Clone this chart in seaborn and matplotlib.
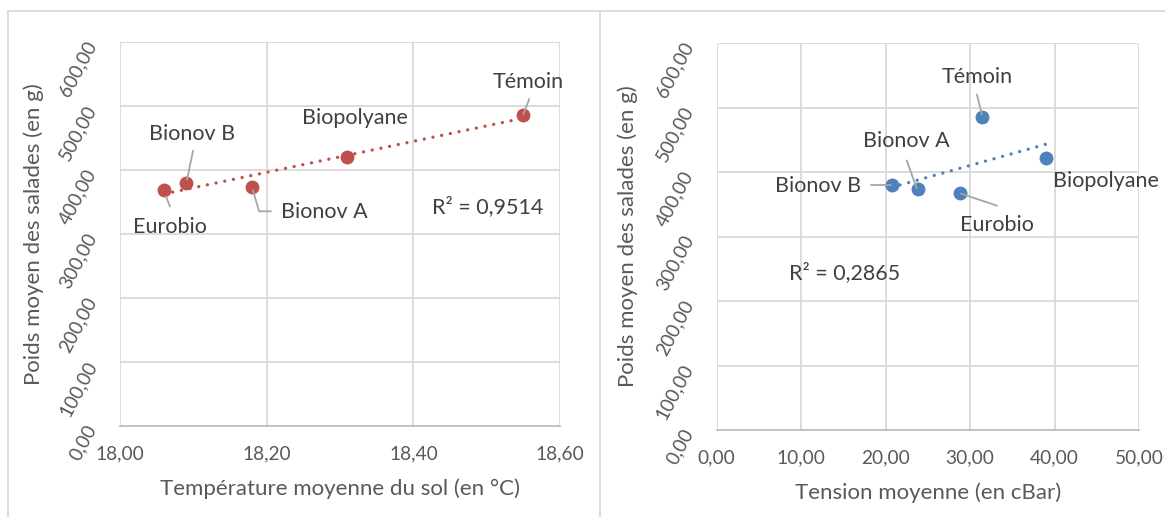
import numpy as np
import pandas as pd
import matplotlib
matplotlib.use("Agg")
import matplotlib.pyplot as plt
import seaborn as sns
from matplotlib.lines import Line2D

# ---------------- data ----------------
treatments = ["Eurobio", "Bionov B", "Bionov A", "Biopolyane", "Témoin"]
temperature = [18.06, 18.09, 18.18, 18.31, 18.55]   # °C
tension = [28.8, 20.7, 23.8, 39.0, 31.4]            # cBar
poids = [368, 380, 373, 421, 486]                   # g

x_ticks_temp = [18.00, 18.20, 18.40, 18.60]
x_labels_temp = ["18,00", "18,20", "18,40", "18,60"]
x_ticks_tens = [0, 10, 20, 30, 40, 50]
x_labels_tens = ["0,00", "10,00", "20,00", "30,00", "40,00", "50,00"]
y_ticks = [0, 100, 200, 300, 400, 500, 600]
y_labels = ["0,00", "100,00", "200,00", "300,00", "400,00", "500,00", "600,00"]

r2_temp = "R² = 0,9514"
r2_tens = "R² = 0,2865"
ylabel_text = "Poids moyen des salades (en g)"
xlabel_temp = "Température moyenne du sol (en °C)"
xlabel_tens = "Tension moyenne (en cBar)"

df = pd.DataFrame({"traitement": treatments, "temperature": temperature,
                   "tension": tension, "poids": poids})

# ---------------- style ----------------
sns.set_theme(style="white")
plt.rcParams["font.family"] = ["Lato", "DejaVu Sans"]

RED = "#C0504D"
BLUE = "#4F81BD"
GRID = "#D9D9D9"
AXIS = "#BFBFBF"
TXT = "#595959"
LBL = "#404040"
LEAD = "#A6A6A6"
TICK_FS = 13.8
TITLE_FS = 16
LABEL_FS = 15.5

W, H = 1165, 517
fig = plt.figure(figsize=(W / 100, H / 100), dpi=100)
fig.patch.set_facecolor("white")


def px_axes(x0, y0, x1, y1):
    return fig.add_axes([x0 / W, 1 - y1 / H, (x1 - x0) / W, (y1 - y0) / H])


ax1 = px_axes(120, 42, 560, 426)
ax2 = px_axes(716.7, 43, 1139, 430)

# label layout (pixel offsets from the point: dx right, dy down)
label_off_1 = {"Témoin": (5, -33), "Biopolyane": (8, -39), "Bionov B": (6, -49),
               "Eurobio": (6, 37), "Bionov A": (72, 25)}
leader_1 = {"Témoin": [(6, -16), (0, -1)], "Bionov B": [(7, -32), (1, -3)],
            "Eurobio": [(6, 16), (2, 6)], "Bionov A": [(1, 3), (7, 24), (19, 24)]}
label_off_2 = {"Témoin": (-5, -40), "Bionov A": (-11, -48), "Bionov B": (-73, 1),
               "Eurobio": (37, 32), "Biopolyane": (60, 23)}
leader_2 = {"Témoin": [(-5, -22), (0, -2)], "Bionov A": [(-11, -29), (-1, -1)],
            "Bionov B": [(-21, 0), (-1, 0)], "Eurobio": [(37, 13), (1, 1)]}


def style_axes(ax, xlim, xticks, xlabels):
    ax.set_xlim(*xlim)
    ax.set_ylim(0, 600)
    ax.set_xticks(xticks)
    ax.set_xticklabels(xlabels, fontsize=TICK_FS, color=TXT)
    ax.set_yticks(y_ticks)
    ax.set_yticklabels(y_labels, fontsize=TICK_FS, color=TXT, rotation=62,
                       rotation_mode="anchor", ha="right", va="center")
    ax.tick_params(axis="x", length=0, pad=14)
    ax.tick_params(axis="y", length=0, pad=20)
    ax.grid(True, color=GRID, linewidth=1.3)
    ax.set_axisbelow(True)
    for s in ["top", "right", "left"]:
        ax.spines[s].set_visible(False)
    ax.spines["bottom"].set_color(AXIS)
    ax.spines["bottom"].set_linewidth(1.3)


def set_titles(ax, xlabel, xl_pos, yl_pos):
    ax.set_xlabel(xlabel, fontsize=TITLE_FS, color=TXT)
    ax.set_ylabel(ylabel_text, fontsize=TITLE_FS, color=TXT)
    ax.xaxis.label.set_va("center")
    ax.yaxis.label.set_va("center")
    ax.xaxis.set_label_coords(*xl_pos)
    ax.yaxis.set_label_coords(*yl_pos)


def draw(ax, xcol, color, offs, leaders):
    sns.regplot(data=df, x=xcol, y="poids", ax=ax, scatter=False, ci=None,
                truncate=True,
                line_kws={"color": color, "linewidth": 2.4,
                          "linestyle": (0, (0.01, 2.65)),
                          "dash_capstyle": "round", "zorder": 3})
    sns.scatterplot(data=df, x=xcol, y="poids", ax=ax, color=color, s=100,
                    linewidth=0, zorder=4, legend=False)
    fig.canvas.draw()
    for name, xv, yv in zip(df["traitement"], df[xcol], df["poids"]):
        px, py = ax.transData.transform((xv, yv))
        if name in leaders:
            pts = leaders[name]
            ax.plot([px + d[0] for d in pts], [py - d[1] for d in pts],
                    color=LEAD, linewidth=1.3, transform=None, clip_on=False,
                    zorder=5)
        dx, dy = offs[name]
        ax.annotate(name, xy=(xv, yv), xytext=(dx, -dy),
                    textcoords="offset pixels", ha="center", va="center",
                    fontsize=LABEL_FS, color=LBL, zorder=6)


style_axes(ax1, (18.0, 18.6), x_ticks_temp, x_labels_temp)
style_axes(ax2, (0, 50), x_ticks_tens, x_labels_tens)

draw(ax1, "temperature", RED, label_off_1, leader_1)
draw(ax2, "tension", BLUE, label_off_2, leader_2)

set_titles(ax1, xlabel_temp, (0.5, (426 - 489) / 384), ((34 - 120) / 440, 0.5))
set_titles(ax2, xlabel_tens, (0.5, (430 - 493) / 387), ((628 - 716.7) / 422.3, 0.5))

ax1.text((488 - 120) / 440, (426 - 207) / 384, r2_temp, transform=ax1.transAxes,
         ha="center", va="center", fontsize=LABEL_FS, color=LBL)
ax2.text((845 - 716.7) / 422.3, (430 - 273) / 387, r2_tens, transform=ax2.transAxes,
         ha="center", va="center", fontsize=LABEL_FS, color=LBL)

# chart-area borders
border_kw = dict(color=GRID, linewidth=1.3, transform=fig.transFigure)
fig.add_artist(Line2D([8 / W, 1], [1 - 11 / H, 1 - 11 / H], **border_kw))
fig.add_artist(Line2D([8 / W, 8 / W], [0, 1 - 11 / H], **border_kw))
fig.add_artist(Line2D([600 / W, 600 / W], [0, 1 - 11 / H], **border_kw))

fig.savefig("out.png", dpi=100, facecolor="white")
